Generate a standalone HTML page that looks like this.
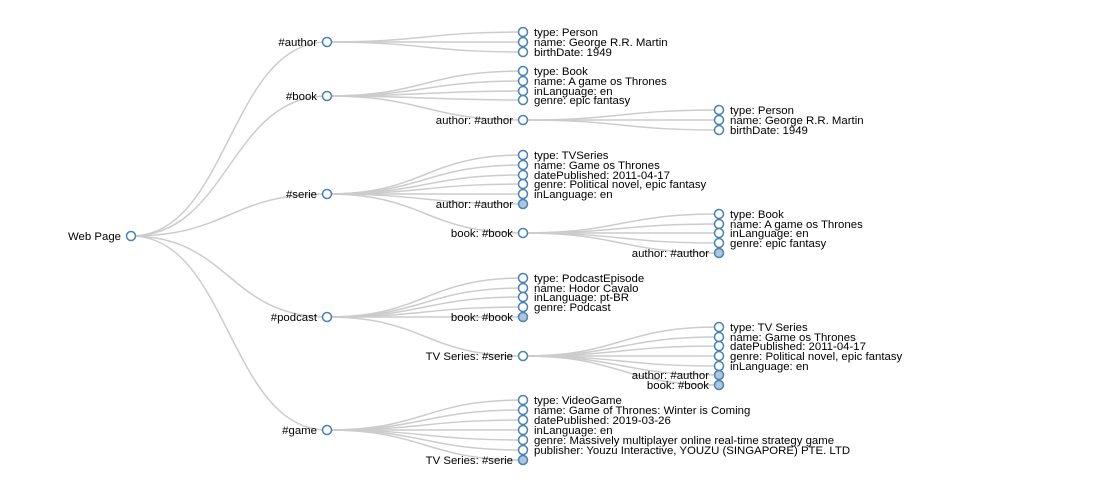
<!DOCTYPE html>
<html><head><meta charset="utf-8"><style>
html,body{margin:0;padding:0;background:#fff;width:1117px;height:490px;overflow:hidden}
svg{display:block}
text{font-family:"Liberation Sans",Arial,sans-serif;font-size:11.4px;fill:#000}
path{fill:none;stroke:#ccc;stroke-width:1.5}
circle{stroke:steelblue;stroke-width:1.5}
</style></head><body>
<svg id="s" width="1117" height="490" xmlns="http://www.w3.org/2000/svg"></svg>
<script>
const X=[131,327,523,719];
const tree=["Web Page",236,[
 ["#author",42,[["type: Person",32],["name: George R.R. Martin",42],["birthDate: 1949",52]]],
 ["#book",96,[["type: Book",71],["name: A game os Thrones",81],["inLanguage: en",91],["genre: epic fantasy",100],
   ["author: #author",120,[["type: Person",110],["name: George R.R. Martin",120],["birthDate: 1949",130]]]]],
 ["#serie",194,[["type: TVSeries",155],["name: Game os Thrones",165],["datePublished: 2011-04-17",175],["genre: Political novel, epic fantasy",184],["inLanguage: en",194],["author: #author",204,null,1],
   ["book: #book",233,[["type: Book",214],["name: A game os Thrones",224],["inLanguage: en",233],["genre: epic fantasy",243],["author: #author",253,null,1]]]]],
 ["#podcast",317,[["type: PodcastEpisode",278],["name: Hodor Cavalo",288],["inLanguage: pt-BR",297],["genre: Podcast",307],["book: #book",317,null,1],
   ["TV Series: #serie",356,[["type: TV Series",327],["name: Game os Thrones",337],["datePublished: 2011-04-17",346],["genre: Political novel, epic fantasy",356],["inLanguage: en",366],["author: #author",375,null,1],["book: #book",385,null,1]]]]],
 ["#game",430,[["type: VideoGame",400],["name: Game of Thrones: Winter is Coming",410],["datePublished: 2019-03-26",420],["inLanguage: en",430],["genre: Massively multiplayer online real-time strategy game",440],["publisher: Youzu Interactive, YOUZU (SINGAPORE) PTE. LTD",450],["TV Series: #serie",460,null,1]]]
]];
let links="",nodes="";
function walk(n,d){
 const x=X[d],y=n[1],kids=n[2],col=n[3];
 if(kids)for(const c of kids){const tx=X[d+1],ty=c[1],m=(x+tx)/2;
  links+=`<path d="M${x},${y}C${m},${y} ${m},${ty} ${tx},${ty}"/>`;walk(c,d+1);}
 const left=kids||col;
 nodes+=`<circle cx="${x}" cy="${y}" r="4.5" fill="${col?'#b0c4de':'#fff'}"/>`+
  `<text x="${left?x-10:x+11}" y="${y}" dy="0.35em" text-anchor="${left?'end':'start'}">${n[0]}</text>`;
}
walk(tree,0);
document.getElementById("s").innerHTML=links+nodes;
</script>
</body></html>
